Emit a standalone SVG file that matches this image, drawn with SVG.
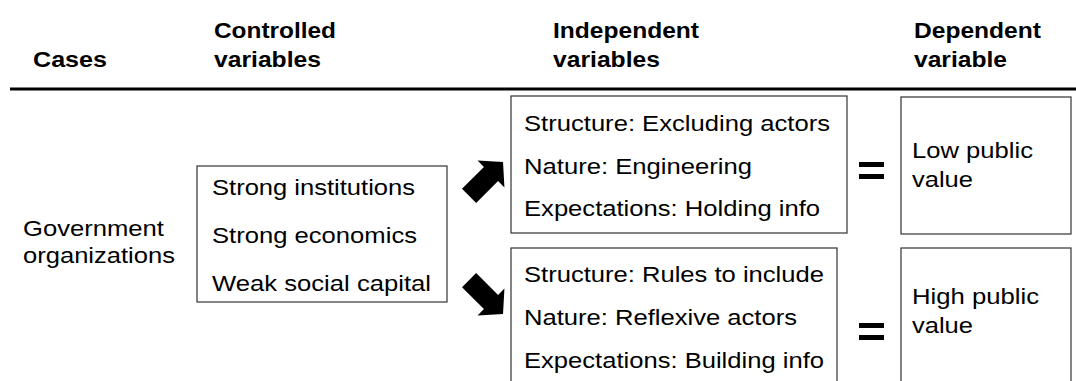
<svg xmlns="http://www.w3.org/2000/svg" width="1076" height="381" viewBox="0 0 1076 381">
<defs>
<style>
.h{font-family:"Liberation Sans",Arial,sans-serif;font-weight:bold;font-size:22px;fill:#000}
.t{font-family:"Liberation Sans",Arial,sans-serif;font-size:22px;fill:#000}
.box{fill:#fff;stroke:#333;stroke-width:1.2}
.arr{fill:#000}
</style>
<path id="arrowShape" d="M-31,-10 L0,-10 L0,-19 L17,0 L0,19 L0,10 L-31,10 Z"/>
</defs>
<rect width="1076" height="381" fill="#fff"/>
<g id="header">
<text class="h" x="33" y="67" textLength="74" lengthAdjust="spacingAndGlyphs">Cases</text>
<text class="h" x="214" y="38" textLength="122" lengthAdjust="spacingAndGlyphs">Controlled</text>
<text class="h" x="214" y="67" textLength="107" lengthAdjust="spacingAndGlyphs">variables</text>
<text class="h" x="553" y="38" textLength="146" lengthAdjust="spacingAndGlyphs">Independent</text>
<text class="h" x="553" y="67" textLength="107" lengthAdjust="spacingAndGlyphs">variables</text>
<text class="h" x="914" y="38" textLength="127" lengthAdjust="spacingAndGlyphs">Dependent</text>
<text class="h" x="914" y="67" textLength="93" lengthAdjust="spacingAndGlyphs">variable</text>
<line x1="10" y1="89" x2="1076" y2="89" stroke="#000" stroke-width="3"/>
</g>
<g id="cases">
<text class="t" x="23" y="236" textLength="141" lengthAdjust="spacingAndGlyphs">Government</text>
<text class="t" x="23" y="263" textLength="152" lengthAdjust="spacingAndGlyphs">organizations</text>
</g>
<g id="controlled">
<rect class="box" x="197" y="166" width="250" height="136"/>
<text class="t" x="212" y="195" textLength="203" lengthAdjust="spacingAndGlyphs">Strong institutions</text>
<text class="t" x="212" y="243" textLength="205" lengthAdjust="spacingAndGlyphs">Strong economics</text>
<text class="t" x="212" y="291" textLength="219" lengthAdjust="spacingAndGlyphs">Weak social capital</text>
</g>
<g id="independent-top">
<rect class="box" x="511" y="96" width="336" height="137"/>
<text class="t" x="524" y="131" textLength="306" lengthAdjust="spacingAndGlyphs">Structure: Excluding actors</text>
<text class="t" x="524" y="174" textLength="228" lengthAdjust="spacingAndGlyphs">Nature: Engineering</text>
<text class="t" x="524" y="216" textLength="296" lengthAdjust="spacingAndGlyphs">Expectations: Holding info</text>
</g>
<g id="independent-bottom">
<rect class="box" x="511" y="248" width="326" height="150"/>
<text class="t" x="524" y="282" textLength="300" lengthAdjust="spacingAndGlyphs">Structure: Rules to include</text>
<text class="t" x="524" y="325" textLength="273" lengthAdjust="spacingAndGlyphs">Nature: Reflexive actors</text>
<text class="t" x="524" y="368" textLength="300" lengthAdjust="spacingAndGlyphs">Expectations: Building info</text>
</g>
<g id="dependent-low">
<rect class="box" x="901" y="97" width="170" height="137"/>
<text class="t" x="912" y="158" textLength="121" lengthAdjust="spacingAndGlyphs">Low public</text>
<text class="t" x="912" y="187" textLength="61" lengthAdjust="spacingAndGlyphs">value</text>
</g>
<g id="dependent-high">
<rect class="box" x="901" y="248" width="170" height="150"/>
<text class="t" x="912" y="304" textLength="127" lengthAdjust="spacingAndGlyphs">High public</text>
<text class="t" x="912" y="333" textLength="61" lengthAdjust="spacingAndGlyphs">value</text>
</g>
<g id="connectors">
<use href="#arrowShape" class="arr" transform="translate(491,174) rotate(-45)"/>
<use href="#arrowShape" class="arr" transform="translate(491,302) rotate(45)"/>
<rect x="859" y="162" width="25" height="5" fill="#000"/>
<rect x="859" y="174" width="25" height="5" fill="#000"/>
<rect x="859" y="323" width="25" height="5" fill="#000"/>
<rect x="859" y="335" width="25" height="5" fill="#000"/>
</g>
</svg>
